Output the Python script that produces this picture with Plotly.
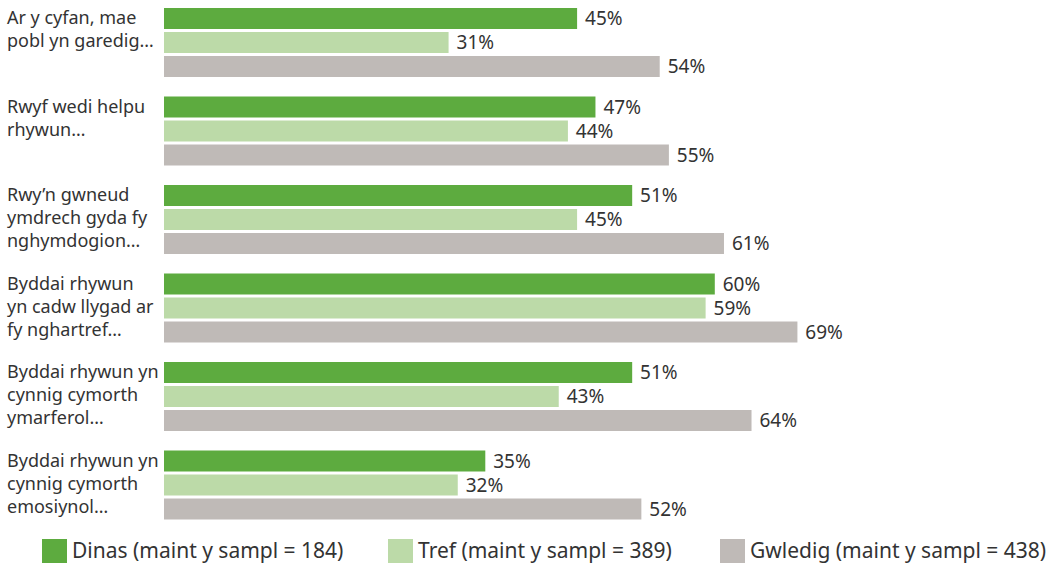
import plotly.graph_objects as go

categories = [
    "Ar y cyfan, mae<br>pobl yn garedig…",
    "Rwyf wedi helpu<br>rhywun…",
    "Rwy’n gwneud<br>ymdrech gyda fy<br>nghymdogion…",
    "Byddai rhywun<br>yn cadw llygad ar<br>fy nghartref…",
    "Byddai rhywun yn<br>cynnig cymorth<br>ymarferol…",
    "Byddai rhywun yn<br>cynnig cymorth<br>emosiynol…",
]
series_names = [
    "Dinas (maint y sampl = 184)",
    "Tref (maint y sampl = 389)",
    "Gwledig (maint y sampl = 438)",
]
dinas = [45, 47, 51, 60, 51, 35]
tref = [31, 44, 45, 59, 43, 32]
gwledig = [54, 55, 61, 69, 64, 52]
colors = ["#5dab3f", "#bcdaa8", "#bfbab7"]

W, H = 1051, 565
L, R, T, B = 164, 0, 0, 34
PW, PH = W - L - R, H - T - B
FONT = "Noto Sans"
TXT = "#333333"

fig = go.Figure()
for name, vals, col in zip(series_names, [dinas, tref, gwledig], colors):
    fig.add_trace(go.Bar(
        y=categories, x=vals, name=name, orientation="h",
        marker=dict(color=col, line=dict(width=0)),
        text=[f"\u00a0{v}%" for v in vals], textposition="outside",
        constraintext="none",
        textfont=dict(family=FONT, size=19, color=TXT),
        cliponaxis=False, showlegend=False, hoverinfo="skip",
    ))

def px_x(px):
    return (px - L) / PW

def px_y(py):
    return (H - B - py) / PH

annotations = []
for c in categories:
    for i, line in enumerate(c.split("<br>")):
        annotations.append(dict(
            x=px_x(5), xref="paper", y=c, yref="y", xanchor="left", yanchor="middle",
            yshift=25 - 23 * i, align="left", showarrow=False, text=line,
            font=dict(family=FONT, size=18, color=TXT),
        ))

shapes = []
legend_x = [42, 388, 720]
for lx, name, col in zip(legend_x, series_names, colors):
    shapes.append(dict(type="rect", xref="paper", yref="paper",
                       x0=px_x(lx), x1=px_x(lx + 25), y0=px_y(563), y1=px_y(539),
                       fillcolor=col, line=dict(width=0)))
    annotations.append(dict(
        x=px_x(lx + 28), xref="paper", y=px_y(550), yref="paper",
        xanchor="left", yanchor="middle", showarrow=False, text=name,
        font=dict(family=FONT, size=21, color=TXT),
    ))

fig.update_layout(
    width=W, height=H,
    margin=dict(l=L, r=R, t=T, b=B, pad=0),
    paper_bgcolor="white", plot_bgcolor="white",
    barmode="group", bargap=0.186, bargroupgap=0.125,
    xaxis=dict(range=[0, PW / 9.18], visible=False),
    yaxis=dict(type="category", range=[5.52, -0.48], showticklabels=False,
               showgrid=False, zeroline=False, showline=False, ticks=""),
    annotations=annotations, shapes=shapes,
    font=dict(family=FONT, color=TXT),
)

fig.write_html("out.html", config={"displayModeBar": False},
               post_script="document.body.style.margin='0';document.body.style.overflow='hidden';")
